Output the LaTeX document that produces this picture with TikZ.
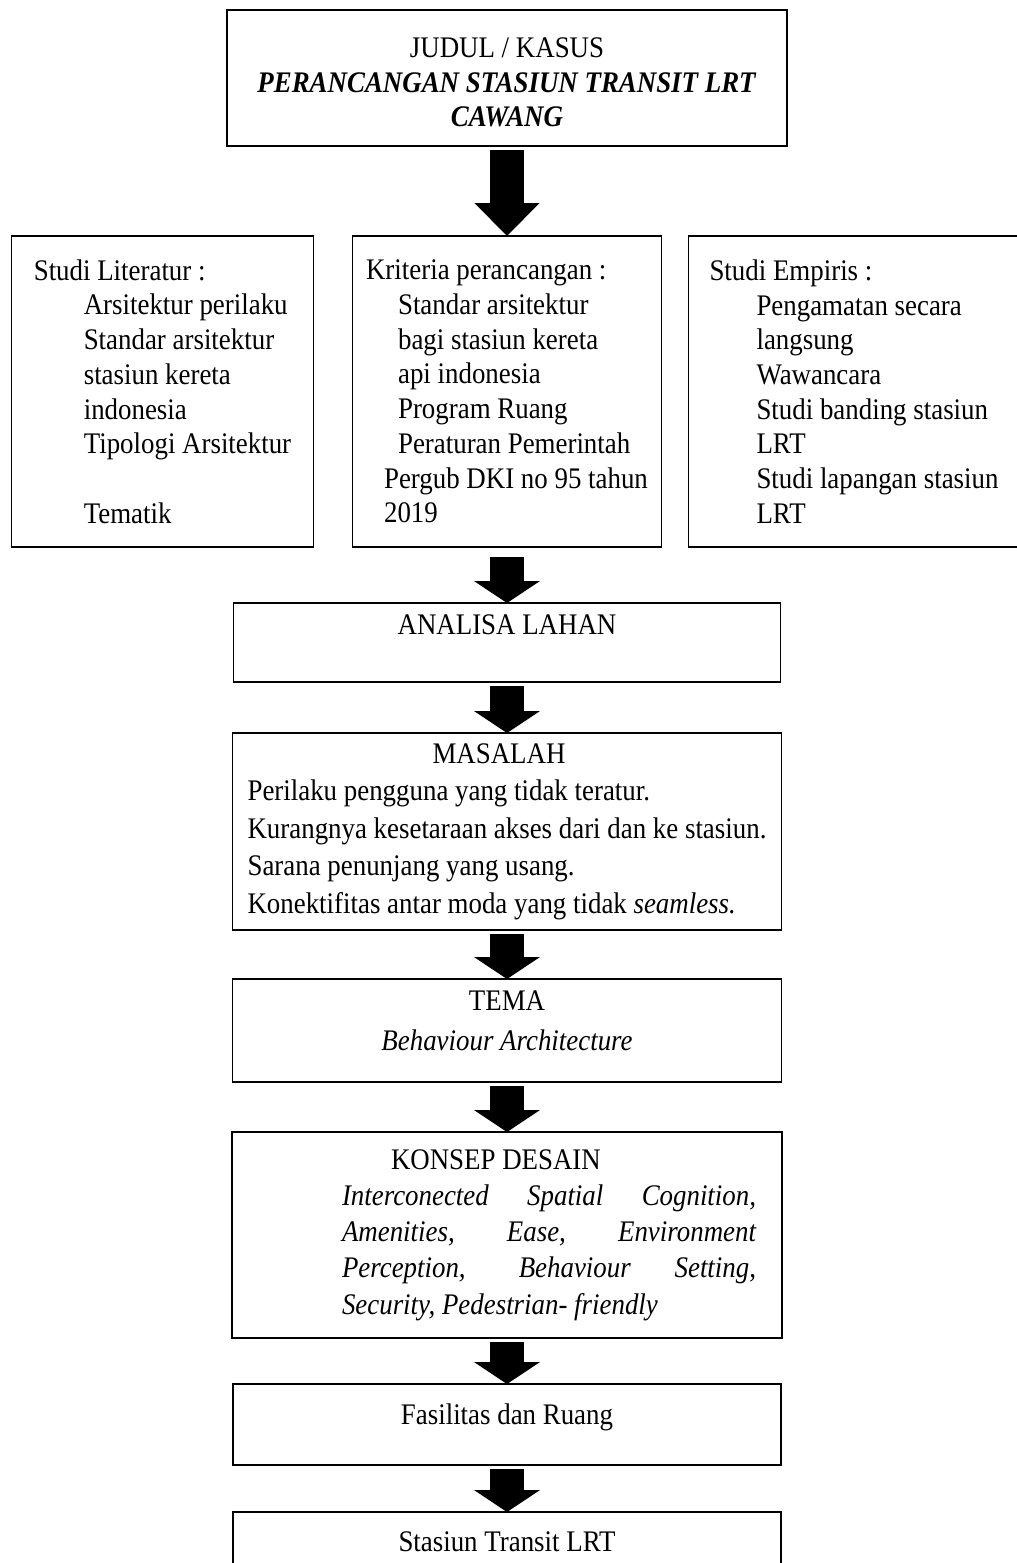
\documentclass[tikz,border=0pt]{standalone}
\usepackage{fontspec}
\setmainfont{Liberation Serif}[FakeStretch=0.9]
\usepackage{tikz}
\usetikzlibrary{shapes,arrows.meta,positioning}
\tikzstyle{kotak} = [rectangle, draw, line width=1.1pt, inner sep=0pt, outer sep=0pt, align=center,
    font=\fontsize{17}{19.75}\selectfont]
\tikzstyle{kiri} = [align=left]
\tikzstyle{panah} = [draw, line width=0.68cm, shorten <=2pt,
    -{Triangle[length=0.44cm,width=1.32cm,line width=0pt]}]

\begin{document}
\begin{tikzpicture}[node distance=1cm,auto]
    \useasboundingbox (0,0) rectangle (20.32,-31.26);

      \node [kotak, minimum width=11.2cm, minimum height=2.72cm] (judul) at (10.14,-1.56)
        {\mbox{}\\[-0.12cm]JUDUL / KASUS\\ \textbf{\textit{PERANCANGAN STASIUN TRANSIT LRT}}\\ \textbf{\textit{CAWANG}}};

      \node [kotak, kiri, below=1.8cm of judul, minimum width=6.18cm, minimum height=6.22cm] (kriteria)
        {Kriteria perancangan :\\
         \hspace*{0.64cm}Standar arsitektur\\
         \hspace*{0.64cm}bagi stasiun kereta\\
         \hspace*{0.64cm}api indonesia\\
         \hspace*{0.64cm}Program Ruang\\
         \hspace*{0.64cm}Peraturan Pemerintah\\
         \hspace*{0.36cm}Pergub DKI no 95 tahun\\
         \hspace*{0.36cm}2019};
      \node [kotak, kiri, left=0.78cm of kriteria, minimum width=6.04cm, minimum height=6.22cm] (literatur)
        {Studi Literatur :\\
         \hspace*{1cm}Arsitektur perilaku\\
         \hspace*{1cm}Standar arsitektur\\
         \hspace*{1cm}stasiun kereta\\
         \hspace*{1cm}indonesia\\
         \hspace*{1cm}Tipologi Arsitektur\\
         \mbox{}\\
         \hspace*{1cm}Tematik};
      \node [kotak, kiri, right=0.54cm of kriteria, minimum width=6.62cm, minimum height=6.22cm] (empiris)
        {Studi Empiris :\\
         \hspace*{0.94cm}Pengamatan secara\\
         \hspace*{0.94cm}langsung\\
         \hspace*{0.94cm}Wawancara\\
         \hspace*{0.94cm}Studi banding stasiun\\
         \hspace*{0.94cm}LRT\\
         \hspace*{0.94cm}Studi lapangan stasiun\\
         \hspace*{0.94cm}LRT};

      \node [kotak, below=1.12cm of kriteria, minimum width=10.94cm, minimum height=1.58cm,
        text height=0.3cm, text depth=0.64cm] (analisa) {ANALISA LAHAN};
      \node [kotak, kiri, below=1.02cm of analisa, minimum width=10.98cm, minimum height=3.94cm,
        font=\fontsize{17}{21.3}\selectfont] (masalah)
        {\hspace*{3.7cm}MASALAH\\
         Perilaku pengguna yang tidak teratur.\\
         Kurangnya kesetaraan akses dari dan ke stasiun.\\
         Sarana penunjang yang usang.\\
         Konektifitas antar moda yang tidak \textit{seamless.}};
      \node [kotak, below=0.98cm of masalah, minimum width=10.98cm, minimum height=2.06cm,
        font=\fontsize{17}{22.8}\selectfont] (tema)
        {TEMA\\ \textit{Behaviour Architecture}\\[-0.4cm]\mbox{}};
      \node [kotak, kiri, below=1cm of tema, minimum width=11cm, minimum height=4.12cm,
        font=\fontsize{17}{20.6}\selectfont] (konsep)
        {\hspace*{2.66cm}KONSEP DESAIN\\
         \hspace*{1.68cm}\parbox[t]{8.28cm}{\itshape Interconected Spatial Cognition,\linebreak
           Amenities, Ease, Environment\linebreak Perception, Behaviour Setting,\linebreak
           Security, Pedestrian- friendly}};
      \node [kotak, below=0.92cm of konsep, minimum width=10.96cm, minimum height=1.62cm,
        text height=0.3cm, text depth=0.3cm] (fasilitas) {Fasilitas dan Ruang};
      \node [kotak, below=0.94cm of fasilitas, minimum width=10.96cm, minimum height=2cm,
        text height=0.3cm, text depth=0.74cm] (stasiun) {Stasiun Transit LRT};

      \path [panah, -{Triangle[length=0.66cm,width=1.3cm,line width=0pt]}] (judul) -- (kriteria);
      \path [panah, shorten <=0.2cm] (kriteria) -- (analisa);
      \path [panah] (analisa) -- (masalah);
      \path [panah] (masalah) -- (tema);
      \path [panah] (tema) -- (konsep);
      \path [panah] (konsep) -- (fasilitas);
      \path [panah] (fasilitas) -- (stasiun);

    \end{tikzpicture}
\end{document}
